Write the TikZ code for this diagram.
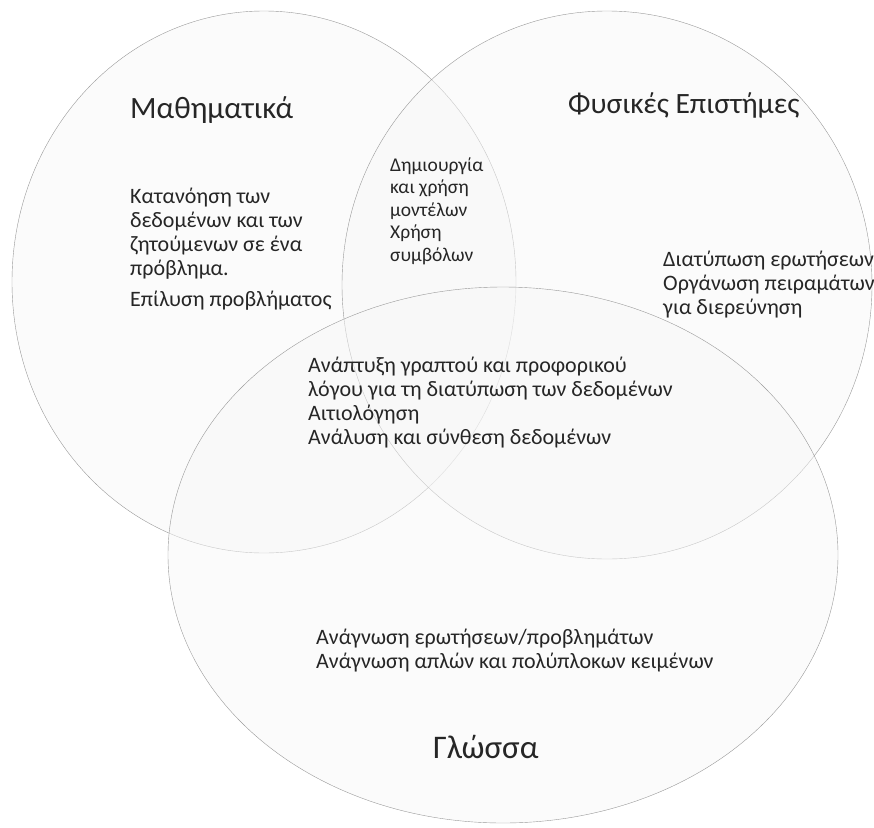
\documentclass[tikz,border=0pt]{standalone}
\usepackage{fontspec}
\setmainfont{Carlito}
\begin{document}
\begin{tikzpicture}[x=1pt, y=-1pt,
    set/.style={draw=black!40, thin, fill=black!3, fill opacity=0.5},
    title/.style={font=\fontsize{31}{36}\selectfont, text=black!85, anchor=base west, inner sep=0pt},
    body/.style={font=\fontsize{22}{24}\selectfont, text=black!85, align=left, anchor=base west, inner sep=0pt},
    small/.style={body, font=\fontsize{19.5}{22.5}\selectfont}]
    \useasboundingbox (0,0) rectangle (874,827);
    % the three sets
    \draw[set] (264,282) ellipse (252 and 271);
    \draw[set] (607,285) ellipse (265 and 274);
    \draw[set] (503,555) ellipse (335 and 268);
    % set names
    \node[title] (math) at (130,118) {Μαθηματικά};
    \node[title, font=\fontsize{29.5}{36}\selectfont] (phys) at (568,113) {Φυσικές Επιστήμες};
    \node[title, font=\fontsize{33}{36}\selectfont] (lang) at (433,758) {Γλώσσα};
    % contents (anchored at the baseline of the last line)
    \node[body] (mathtxt) at (130,306) {Κατανόηση των\\δεδομένων και των\\ζητούμενων σε ένα\\πρόβλημα.\\[7pt]Επίλυση προβλήματος};
    \node[small] (mathphys) at (390,261) {Δημιουργία\\και χρήση\\μοντέλων\\Χρήση\\συμβόλων};
    \node[body] (phystxt) at (663,314) {Διατύπωση ερωτήσεων\\Οργάνωση πειραμάτων\\για διερεύνηση};
    \node[body] (common) at (308,444) {Ανάπτυξη γραπτού και προφορικού\\λόγου για τη διατύπωση των δεδομένων\\Αιτιολόγηση\\Ανάλυση και σύνθεση δεδομένων};
    \node[body] (langtxt) at (316,668) {Ανάγνωση ερωτήσεων/προβλημάτων\\Ανάγνωση απλών και πολύπλοκων κειμένων};
\end{tikzpicture}
\end{document}
